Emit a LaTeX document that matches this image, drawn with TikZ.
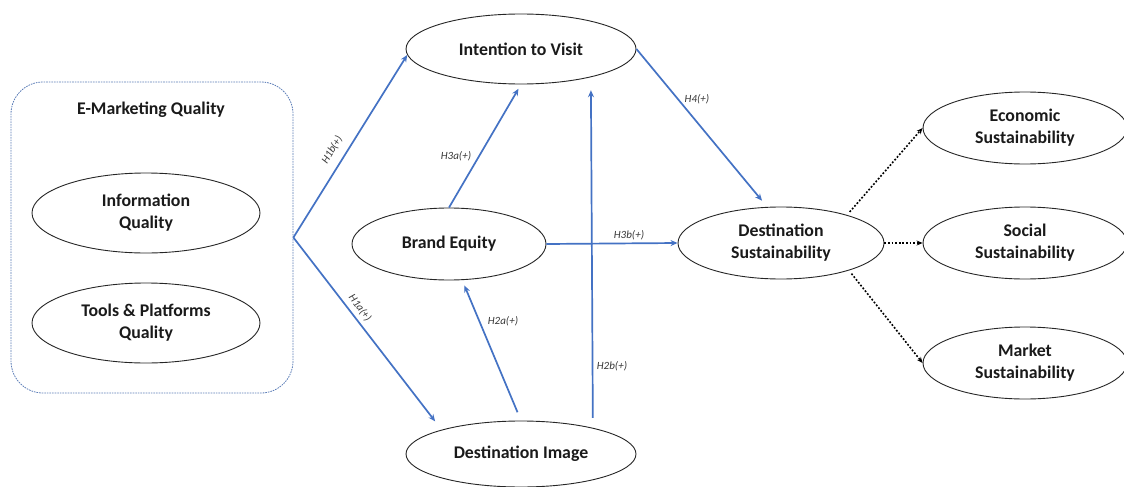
\documentclass[tikz,border=0pt]{standalone}
\usepackage{fontspec}
\setmainfont{Carlito}
\usetikzlibrary{shapes.geometric,arrows.meta}
\definecolor{linkblue}{HTML}{4472C4}
\definecolor{boxblue}{HTML}{5B7DB8}
\definecolor{inktext}{HTML}{1A1A1A}
\begin{document}
\begin{tikzpicture}[x=1pt,y=-1pt,
  construct/.style={draw=black!85, line width=0.9pt, ellipse, inner sep=0pt,
    align=center, text=inktext, font=\fontsize{17.8}{22}\selectfont\bfseries},
  hyplink/.style={draw=linkblue, line width=1.7pt, -{Stealth[length=7pt,width=6pt]}},
  dimlink/.style={draw=black, line width=1.6pt, dash pattern=on 1.8pt off 1.8pt,
    -{Stealth[length=6pt,width=5pt]}},
  hyp/.style={font=\fontsize{11}{13}\selectfont\itshape, text=black!78, inner sep=1pt}
]
\fill[white] (0,0) rectangle (1124,487);
\useasboundingbox (0,0) rectangle (1124,487);

% second-order construct and its dimensions
\node[draw=boxblue, line width=0.8pt, dash pattern=on 1.6pt off 1pt,
  rounded corners=32pt, minimum width=282pt, minimum height=311pt, inner sep=0pt]
  (emq) at (152,237.5) {};
\node[text=inktext, font=\fontsize{17.8}{22}\selectfont\bfseries] (emqtitle) at (151,110) {E-Marketing Quality};
\node[construct, minimum width=228pt, minimum height=80pt] (iq) at (146,213) {Information\\Quality};
\node[construct, minimum width=228pt, minimum height=80pt] (tpq) at (146,323) {Tools \& Platforms\\Quality};

% model constructs
\node[construct, minimum width=230pt, minimum height=70pt] (itv) at (521,49) {Intention to Visit};
\node[construct, minimum width=194pt, minimum height=72pt] (be) at (449,244) {Brand Equity};
\node[construct, minimum width=230pt, minimum height=66pt] (di) at (521,454) {Destination Image};
\node[construct, minimum width=206pt, minimum height=72pt] (ds) at (781,243) {Destination\\Sustainability};

% sustainability dimensions
\node[construct, minimum width=204pt, minimum height=72pt] (eco) at (1025,128) {Economic\\Sustainability};
\node[construct, minimum width=204pt, minimum height=72pt] (soc) at (1025,243) {Social\\Sustainability};
\node[construct, minimum width=204pt, minimum height=72pt] (mkt) at (1025,363) {Market\\Sustainability};

% hypothesised paths
\draw[hyplink] (emq.east) -- (itv.183);
\draw[hyplink, shorten >=10.6pt] (emq.east) -- (di.163.6);
\draw[hyplink, shorten >=5pt] (be.north) -- (itv.south);
\draw[hyplink, shorten <=10pt, shorten >=13pt] (di.20.9) -- (itv.-22.1);
\draw[hyplink] (be.east) -- (ds.west);
\draw[hyplink, shorten >=8pt] (itv.east) -- (ds.111);
\draw[hyplink, shorten <=9pt, shorten >=5.8pt] (di.north) -- (be.-70.6);

% links to the dimensions of sustainability
\draw[dimlink, shorten <=4pt] (ds.23) -- (eco.west);
\draw[dimlink] (ds.east) -- (soc.west);
\draw[dimlink, shorten <=4pt] (ds.-22) -- (mkt.west);

% hypothesis labels
\node[hyp, rotate=59] (lh1b) at (332,150) {H1b(+)};
\node[hyp, rotate=-53] (lh1a) at (360,308) {H1a(+)};
\node[hyp] (lh3a) at (456,156) {H3a(+)};
\node[hyp] (lh4) at (697,99) {H4(+)};
\node[hyp] (lh3b) at (629,235) {H3b(+)};
\node[hyp] (lh2a) at (503,321) {H2a(+)};
\node[hyp] (lh2b) at (612,366) {H2b(+)};
\end{tikzpicture}
\end{document}
